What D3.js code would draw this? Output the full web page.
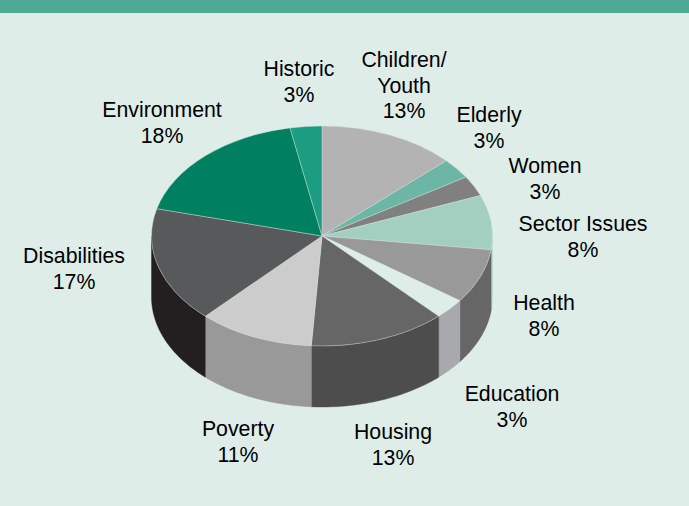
<!DOCTYPE html>
<html>
<head>
<meta charset="utf-8">
<script src="https://cdn.jsdelivr.net/npm/d3@7"></script>
<style>
  html, body { margin: 0; padding: 0; background: #deede8; }
  svg { display: block; }
</style>
</head>
<body>
<div id="chart"></div>
<script>
const categories = ['Children/|Youth', 'Elderly', 'Women', 'Sector Issues', 'Health', 'Education',
  'Housing', 'Poverty', 'Disabilities', 'Environment', 'Historic'];
const values = [13, 3, 3, 8, 8, 3, 13, 11, 17, 18, 3];

const topColors = ['#b3b3b3', '#6db5a4', '#808080', '#a3cfc1', '#999999', '#deede8',
  '#666666', '#cccccc', '#58595b', '#008060', '#1c9c80'];
const sideColors = ['#b3b3b3', '#6db5a4', '#808080', '#b5d6cc', '#666666', '#a7a9ac',
  '#4d4d4d', '#999999', '#231f20', '#008060', '#1c9c80'];

// label centre x and first baseline y, hand placed like the original
const labelAt = [[404, 67], [489, 122], [545, 173], [583, 231], [544, 310], [512, 401],
  [393, 439], [238, 436], [74, 263], [162, 117], [299, 76]];

const width = 689;
const height = 506;
const bandHeight = 13;
const cx = 322;
const cy = 236;
const rx = 170.5;
const ry = 110;
const depth = 61;
const lineGap = 25.5;

const svg = d3.select('#chart')
  .append('svg')
  .attr('width', width)
  .attr('height', height);

svg.append('rect')
  .attr('width', width)
  .attr('height', height)
  .attr('fill', '#deede8');

svg.append('rect')
  .attr('width', width)
  .attr('height', bandHeight)
  .attr('fill', '#4fa995');

const x = d3.scaleLinear().domain([-1, 1]).range([cx - rx, cx + rx]);
const y = d3.scaleLinear().domain([-1, 1]).range([cy - ry, cy + ry]);

const slices = d3.pie().sort(null)(values);

// outer wall of one slice, only the part that faces the viewer
function wallPath(d) {
  const a0 = Math.max(d.startAngle, Math.PI / 2);
  const a1 = Math.min(d.endAngle, Math.PI * 1.5);
  if (a1 <= a0) return null;
  const steps = d3.range(0, 41).map(i => a0 + (a1 - a0) * i / 40);
  const line = d3.line();
  const front = steps.map(a => [x(Math.sin(a)), y(-Math.cos(a))]);
  const back = steps.slice().reverse().map(a => [x(Math.sin(a)), y(-Math.cos(a)) + depth]);
  return line(front.concat(back)) + 'Z';
}

svg.append('g')
  .selectAll('path')
  .data(slices)
  .join('path')
    .attr('d', wallPath)
    .attr('fill', (d, i) => sideColors[i])
    .attr('stroke', (d, i) => sideColors[i])
    .attr('stroke-width', 0.4);

const arc = d3.arc().innerRadius(0).outerRadius(rx);

svg.append('g')
  .attr('transform', `translate(${cx},${cy}) scale(1,${ry / rx})`)
  .selectAll('path')
  .data(slices)
  .join('path')
    .attr('d', arc)
    .attr('fill', (d, i) => topColors[i])
    .attr('stroke', '#d5e3df')
    .attr('stroke-width', 0.5);

const labels = svg.append('g')
  .attr('font-family', '"Liberation Sans", Arial, sans-serif')
  .attr('font-size', '21.3px')
  .attr('fill', '#000000')
  .attr('text-anchor', 'middle')
  .selectAll('text')
  .data(categories)
  .join('text')
    .attr('x', (d, i) => labelAt[i][0])
    .attr('y', (d, i) => labelAt[i][1]);

labels.each(function (d, i) {
  const lines = d.split('|').concat(values[i] + '%');
  d3.select(this).selectAll('tspan')
    .data(lines)
    .join('tspan')
      .attr('x', labelAt[i][0])
      .attr('y', (l, j) => labelAt[i][1] + j * lineGap)
      .text(l => l);
});
</script>
</body>
</html>
